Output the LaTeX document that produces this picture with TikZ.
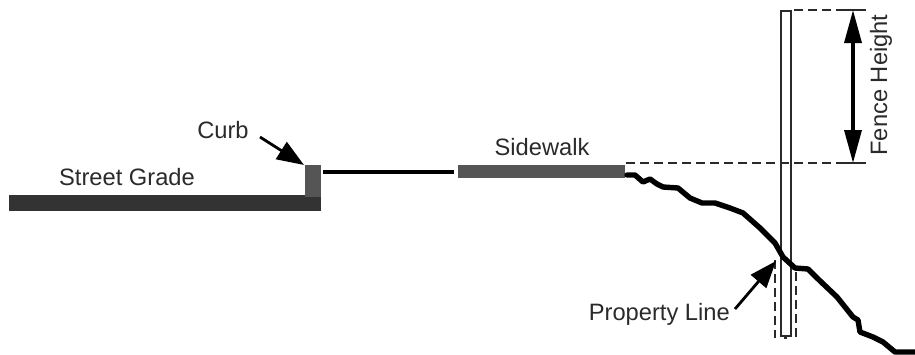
\documentclass[tikz,border=0pt]{standalone}
\usepackage{fontspec}
\setmainfont{Liberation Sans}
\usetikzlibrary{arrows.meta}
\definecolor{slab}{HTML}{555555}
\definecolor{road}{HTML}{333333}
\definecolor{ink}{HTML}{2A2A2A}
\tikzset{
  lbl/.style={inner sep=0pt,text=ink,font=\fontsize{23.7}{27}\selectfont},
  slabfill/.style={fill=slab,draw=none},
  roadfill/.style={fill=road,draw=none},
  dim/.style={draw=ink,line width=2pt,dash pattern=on 9pt off 5pt},
  tick/.style={draw=ink,line width=2.2pt},
  pointer/.style={draw=black,line width=2.8pt,-{Triangle[length=27pt,width=20pt]}},
  dblarrow/.style={draw=black,line width=3.4pt,{Triangle[length=33pt,width=17pt]}-{Triangle[length=33pt,width=17pt]}},
  ground/.style={draw=black,line width=5.4pt,line join=round,line cap=round},
  fence/.style={draw=ink,line width=2.3pt,fill=white},
  propdash/.style={draw=ink,line width=1.8pt,dash pattern=on 9pt off 5pt}
}
\begin{document}
\begin{tikzpicture}[x=1pt,y=-1pt]
\useasboundingbox (0,0) rectangle (915,354);
% street and curb
\fill[roadfill] (9,195) rectangle (321,211);
\fill[slabfill] (305,165) rectangle (321,197);
\draw[black,line width=4.4pt] (323,172) -- (454,172);
\fill[slabfill] (458,165) rectangle (625,178);
% property line dashes
\coordinate (pa) at (775,260);
\coordinate (pb) at (775,338);
\coordinate (pc) at (796,338);
\coordinate (pd) at (796,272);
\draw[propdash] (pa) -- (pb);
\draw[propdash] (pd) -- (pc);
\draw[tick,line width=1.4pt] (784,338) -- (787,338);
% fence
\node[fence,minimum width=10pt,minimum height=325pt,inner sep=0pt,anchor=north west] (post) at (780,10) {};
% level lines
\coordinate (topa) at (794,10);
\coordinate (topb) at (840,10);
\coordinate (topc) at (866,10);
\coordinate (lowa) at (626,163);
\coordinate (lowb) at (840,163);
\coordinate (lowc) at (866,163);
\draw[dim] (topa) -- (topb);
\draw[tick] (topb) -- (topc);
\draw[dim] (lowa) -- (lowb);
\draw[tick] (lowb) -- (lowc);
% height arrow
\coordinate (ha) at (853,10);
\coordinate (hb) at (853,163);
\draw[dblarrow] (ha) -- (hb);
% ground
\draw[ground] (627,175) -- (635,175) -- (643,182) -- (650,179) -- (657,184) -- (663,187) -- (678,188) -- (690,198) -- (702,203) -- (715,203) -- (730,208) -- (743,213) -- (760,228) -- (775,243) -- (783,257) -- (795,268) -- (808,269) -- (817,278) -- (837,297) -- (853,317) -- (858,320) -- (860,332) -- (873,337) -- (883,342) -- (895,352) -- (915,352);
% labels
\node[lbl] (street) at (127,177) {Street Grade};
\node[lbl] (curb) at (223,130) {Curb};
\node[lbl] (walk) at (542,147) {Sidewalk};
\node[lbl,anchor=east] (prop) at (730,314) {Property Line};
\node[lbl,rotate=90] (fh) at (881,85) {Fence Height};
% pointers
\coordinate (curbtip) at (304,165);
\coordinate (curbtail) at (260,137);
\coordinate (proptip) at (776,261);
\coordinate (proptail) at (735,309);
\draw[pointer] (curbtail) -- (curbtip);
\draw[pointer] (proptail) -- (proptip);
\end{tikzpicture}
\end{document}
